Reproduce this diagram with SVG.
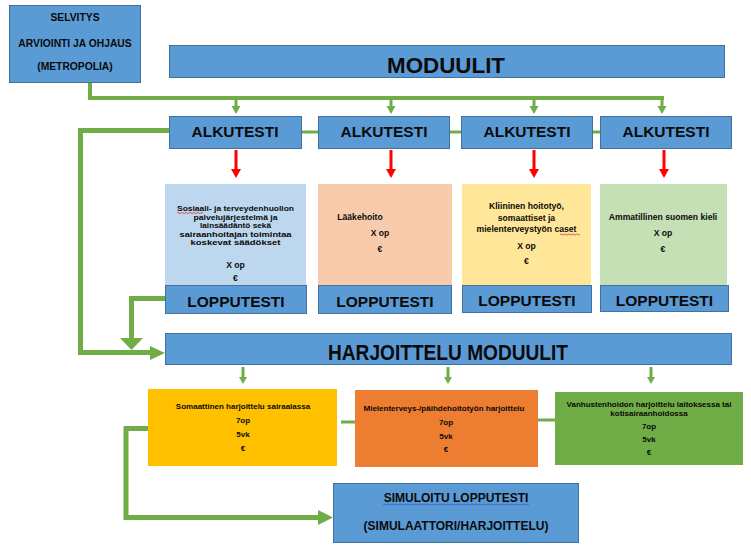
<svg xmlns="http://www.w3.org/2000/svg" width="751" height="554" viewBox="0 0 751 554">
<defs>
<style>
.blue{fill:#5B9BD5;stroke:#41719C;stroke-width:1}
.t{font-family:"Liberation Sans",Arial,sans-serif;font-weight:bold;fill:#0a0a0a;text-anchor:middle}
.big{font-size:22px}
.mid{font-size:15.5px}
.sel{font-size:10.3px}
.sm{font-size:8.6px}
.b1{font-size:7.3px}
.xs{font-size:8px}
.sim{font-size:12px}
.g{fill:none;stroke:#70AD47;stroke-linejoin:miter}
.gf{fill:#70AD47}
.r{stroke:#FF0000;stroke-width:3;fill:none}
.rf{fill:#FF0000}
</style>
</defs>
<rect width="751" height="554" fill="#fff"/>

<g id="connectors">
<!-- top bus -->
<path class="g" stroke-width="4" d="M90 82 V98 H664"/>
<path class="g" stroke-width="3" d="M236 98 V107 M391 98 V107 M534 98 V107 M662 98 V107"/>
<polygon class="gf" points="231.5,106 240.5,106 236,114"/>
<polygon class="gf" points="386.5,106 395.5,106 391,114"/>
<polygon class="gf" points="529.5,106 538.5,106 534,114"/>
<polygon class="gf" points="657.5,106 666.5,106 662,114"/>
<!-- between ALKUTESTI boxes -->
<path class="g" stroke-width="3" d="M301 132 H318 M449 132 H461 M593 132 H600"/>
<!-- red arrows -->
<path class="r" d="M236 150 V170 M391 150 V170 M534 150 V170 M664 150 V170"/>
<polygon class="rf" points="231,169 241,169 236,178"/>
<polygon class="rf" points="386,169 396,169 391,178"/>
<polygon class="rf" points="529,169 539,169 534,178"/>
<polygon class="rf" points="659,169 669,169 664,178"/>
<!-- left big loop to HARJOITTELU -->
<path class="g" stroke-width="5" d="M169 130.5 H80.5 V352.5 H152"/>
<polygon class="gf" points="150,346 165,353 150,360"/>
<!-- LOPPUTESTI 1 to HARJOITTELU -->
<path class="g" stroke-width="5" d="M165 298.5 H131.5 V339"/>
<polygon class="gf" points="120,338 143,338 131.5,350"/>
<!-- HARJOITTELU small arrows -->
<path class="g" stroke-width="3" d="M243 367 V378 M448 367 V378 M651 367 V378"/>
<polygon class="gf" points="239,377 247,377 243,384"/>
<polygon class="gf" points="444,377 452,377 448,384"/>
<polygon class="gf" points="647,377 655,377 651,384"/>
<!-- between practice boxes -->
<path class="g" stroke-width="3" d="M341 422 H355 M538 420 H555"/>
<!-- practice A to simulated test -->
<path class="g" stroke-width="5" d="M148 428.5 H126 V517.5 H320"/>
<polygon class="gf" points="318,510 333,517.5 318,525"/>
</g>

<g id="selvitys">
<rect class="blue" x="9.5" y="5.5" width="131" height="77"/>
<text class="t sel" x="75" y="21">SELVITYS</text>
<text class="t sel" x="75" y="47">ARVIOINTI JA OHJAUS</text>
<text class="t sel" x="75" y="70">(METROPOLIA)</text>
</g>

<g id="moduulit">
<rect class="blue" x="169.5" y="45.5" width="555" height="32"/>
<text class="t big" x="446" y="73" textLength="118" lengthAdjust="spacingAndGlyphs">MODUULIT</text>
</g>

<g id="alkutesti1">
<rect class="blue" x="169.5" y="116.5" width="132" height="32"/>
<text class="t mid" x="235" y="137">ALKUTESTI</text>
</g>
<g id="alkutesti2">
<rect class="blue" x="318.5" y="116.5" width="131" height="32"/>
<text class="t mid" x="384" y="137">ALKUTESTI</text>
</g>
<g id="alkutesti3">
<rect class="blue" x="461.5" y="116.5" width="131" height="32"/>
<text class="t mid" x="527" y="137">ALKUTESTI</text>
</g>
<g id="alkutesti4">
<rect class="blue" x="600.5" y="116.5" width="131" height="32"/>
<text class="t mid" x="666" y="137">ALKUTESTI</text>
</g>

<g id="modul1">
<rect x="165" y="184" width="141" height="101" fill="#BDD7EE"/>
<text class="t b1" x="235.5" y="211" textLength="117" lengthAdjust="spacingAndGlyphs">Sosiaali- ja terveydenhuollon</text>
<text class="t b1" x="235.5" y="219.5" textLength="84" lengthAdjust="spacingAndGlyphs">palvelujärjestelmä ja</text>
<text class="t b1" x="235.5" y="228" textLength="71" lengthAdjust="spacingAndGlyphs">lainsäädäntö sekä</text>
<text class="t b1" x="235.5" y="236.5" textLength="112" lengthAdjust="spacingAndGlyphs">sairaanhoitajan toimintaa</text>
<text class="t b1" x="235.5" y="245" textLength="90" lengthAdjust="spacingAndGlyphs">koskevat säädökset</text>
<text class="t sm" x="235.5" y="268">X op</text>
<text class="t sm" x="235.5" y="281">€</text>
<path d="M177 213 q1 -1.2 2 0 t2 0 t2 0 t2 0 t2 0 t2 0 t2 0 t2 0 t2 0 t2 0 t2 0 t2 0 t2 0" fill="none" stroke="#E02020" stroke-width="0.7"/>
</g>
<g id="lopputesti1">
<rect class="blue" x="165.5" y="285.5" width="141" height="28"/>
<text class="t mid" x="236" y="307">LOPPUTESTI</text>
</g>

<g id="modul2">
<rect x="318" y="184" width="134" height="101" fill="#F8CBAD"/>
<text class="t sm" x="360" y="220">Lääkehoito</text>
<text class="t sm" x="380" y="236">X op</text>
<text class="t sm" x="380" y="252">€</text>
</g>
<g id="lopputesti2">
<rect class="blue" x="318.5" y="285.5" width="133" height="28"/>
<text class="t mid" x="385" y="307">LOPPUTESTI</text>
</g>

<g id="modul3">
<rect x="462" y="184" width="129" height="101" fill="#FFE699"/>
<text class="t sm" x="526.5" y="209">Kliininen hoitotyö,</text>
<text class="t sm" x="526.5" y="220.5">somaattiset ja</text>
<text class="t sm" x="526.5" y="232">mielenterveystyön caset</text>
<text class="t sm" x="526.5" y="249">X op</text>
<text class="t sm" x="526.5" y="264">€</text>
<path d="M560 234.5 q1 -1.2 2 0 t2 0 t2 0 t2 0 t2 0 t2 0 t2 0 t2 0 t2 0 t2 0" fill="none" stroke="#E02020" stroke-width="0.7"/>
</g>
<g id="lopputesti3">
<rect class="blue" x="462.5" y="285.5" width="129" height="27"/>
<text class="t mid" x="527" y="306">LOPPUTESTI</text>
</g>

<g id="modul4">
<rect x="600" y="184" width="127" height="101" fill="#C5E0B4"/>
<text class="t sm" x="663" y="220" font-size="9px">Ammatillinen suomen kieli</text>
<text class="t sm" x="663" y="236">X op</text>
<text class="t sm" x="663" y="252">€</text>
</g>
<g id="lopputesti4">
<rect class="blue" x="600.5" y="285.5" width="128" height="26"/>
<text class="t mid" x="664.5" y="306">LOPPUTESTI</text>
</g>

<g id="harjoittelu-moduulit">
<rect class="blue" x="165.5" y="333.5" width="566" height="31"/>
<text class="t big" x="448" y="360" textLength="240" lengthAdjust="spacingAndGlyphs">HARJOITTELU MODUULIT</text>
</g>

<g id="somaattinen">
<rect x="148" y="389" width="189" height="77" fill="#FFC000"/>
<text class="t xs" x="243" y="409">Somaattinen harjoittelu sairaalassa</text>
<text class="t xs" x="243" y="423">7op</text>
<text class="t xs" x="243" y="437">5vk</text>
<text class="t xs" x="243" y="451">€</text>
</g>

<g id="mielenterveys">
<rect x="355" y="390" width="183" height="77" fill="#ED7D31"/>
<text class="t xs" x="444" y="411">Mielenterveys-/päihdehoitotyön harjoittelu</text>
<text class="t xs" x="446" y="425">7op</text>
<text class="t xs" x="446" y="439">5vk</text>
<text class="t xs" x="446" y="452">€</text>
</g>

<g id="vanhustenhoito">
<rect x="555" y="392" width="188" height="73" fill="#70AD47"/>
<text class="t xs" x="649" y="407">Vanhustenhoidon harjoittelu laitoksessa tai</text>
<text class="t xs" x="649" y="416">kotisairaanhoidossa</text>
<text class="t xs" x="649" y="429">7op</text>
<text class="t xs" x="649" y="442">5vk</text>
<text class="t xs" x="649" y="455">€</text>
</g>

<g id="simuloitu">
<rect class="blue" x="333.5" y="483.5" width="245" height="59"/>
<text class="t sim" x="456" y="502">SIMULOITU LOPPUTESTI</text>
<path d="M383 504.5 q1 -1 2 0 t2 0 t2 0 t2 0 t2 0 t2 0 t2 0 t2 0 t2 0 t2 0 t2 0 t2 0 t2 0 t2 0 t2 0 t2 0 t2 0 t2 0 t2 0 t2 0 t2 0 t2 0 t2 0 t2 0 t2 0 t2 0 t2 0 t2 0 t2 0 t2 0 t2 0 t2 0 t2 0 t2 0 t2 0 t2 0 t2 0 t2 0 t2 0 t2 0 t2 0 t2 0 t2 0 t2 0 t2 0 t2 0 t2 0 t2 0 t2 0 t2 0 t2 0 t2 0 t2 0 t2 0 t2 0 t2 0 t2 0 t2 0 t2 0 t2 0 t2 0 t2 0 t2 0 t2 0 t2 0 t2 0 t2 0 t2 0 t2 0 t2 0 t2 0 t2 0 t2 0" fill="none" stroke="#3050D0" stroke-width="0.7"/>
<text class="t sim" x="456" y="530">(SIMULAATTORI/HARJOITTELU)</text>
</g>
</svg>
